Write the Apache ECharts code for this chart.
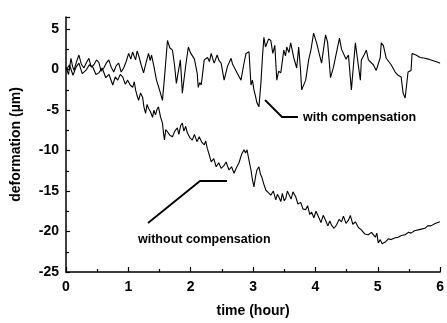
<!DOCTYPE html>
<html>
<head>
<meta charset="utf-8">
<script src="https://cdn.jsdelivr.net/npm/echarts@6/dist/echarts.min.js"></script>
<style>html,body{margin:0;padding:0;background:#fff;}#c{width:447px;height:323px;}</style>
</head>
<body>
<div id="c"></div>
<script>
// time (hour) and deformation (µm)
const withTime = [0.000,0.040,0.080,0.105,0.128,0.165,0.207,0.245,0.287,0.330,0.367,0.405,0.447,0.490,0.526,0.565,0.606,0.645,0.686,0.725,0.766,0.805,0.845,0.885,0.925,0.965,1.005,1.040,1.069,1.095,1.116,1.140,1.164,1.205,1.244,1.285,1.324,1.350,1.372,1.410,1.451,1.500,1.547,1.585,1.627,1.665,1.707,1.740,1.770,1.800,1.834,1.850,1.866,1.915,1.962,1.995,2.026,2.060,2.089,2.105,2.121,2.145,2.169,2.217,2.270,2.300,2.329,2.355,2.376,2.400,2.424,2.455,2.488,2.536,2.590,2.648,2.670,2.695,2.743,2.775,2.807,2.850,2.887,2.935,2.967,2.990,3.014,3.040,3.062,3.094,3.126,3.150,3.174,3.200,3.222,3.250,3.285,3.317,3.349,3.381,3.410,3.445,3.493,3.520,3.541,3.575,3.604,3.652,3.700,3.732,3.760,3.780,3.844,3.892,3.930,3.971,4.019,4.060,4.099,4.130,4.163,4.195,4.220,4.242,4.290,4.340,4.386,4.420,4.450,4.490,4.530,4.577,4.610,4.641,4.680,4.721,4.737,4.780,4.817,4.850,4.880,4.928,4.976,5.040,5.056,5.090,5.120,5.136,5.175,5.215,5.279,5.327,5.375,5.407,5.439,5.455,5.486,5.534,5.550,5.614,5.680,5.758,5.810,5.853,5.965,6.000];
const withValue = [0.3,-0.6,1.4,0.4,-0.1,0.9,1.8,0.7,0.2,0.9,1.4,0.3,0.6,1.2,0.9,-0.2,0.2,0.8,1.2,0.3,-0.3,0.5,0.8,-0.3,0.2,1.0,2.0,1.3,2.2,1.6,1.2,2.3,1.8,0.6,-0.4,0.9,2.0,1.1,1.8,0.4,-1.3,-2.5,-3.8,-0.5,3.6,2.7,2.4,0.6,-1.7,-0.3,1.2,-0.8,-2.9,0.2,2.8,2.1,2.0,1.3,1.5,-0.5,-2.2,-1.6,-1.9,1.2,1.5,1.0,2.0,1.3,0.8,1.3,1.8,1.1,0.8,-1.3,0.4,1.4,0.7,0.9,-0.4,-0.6,-1.3,0.6,2.0,2.2,-1.9,-1.3,-2.5,-3.3,-4.1,-4.6,-1.7,1.5,4.0,2.8,3.0,3.8,3.6,2.0,3.0,-1.3,-0.2,-0.4,2.4,1.7,2.8,2.1,3.3,1.5,0.2,2.8,0.1,-2.5,-1.3,1.2,2.5,4.5,3.3,2.0,0.8,2.5,4.3,3.4,1.2,-1.0,0.3,2.2,3.9,2.5,2.7,1.3,1.8,-2.5,0.5,3.3,1.0,-1.3,1.2,1.8,2.4,1.2,1.4,0.6,-0.1,1.5,3.3,3.0,2.8,1.4,1.0,0.6,-0.3,-0.7,-0.9,-2.9,-3.5,-3.4,-0.3,-0.1,2.0,1.8,1.5,1.4,1.3,1.2,0.9,0.8];

const withoutTime = [0.000,0.056,0.112,0.160,0.207,0.260,0.319,0.375,0.431,0.480,0.526,0.580,0.638,0.690,0.750,0.790,0.829,0.870,0.909,0.950,0.989,1.030,1.069,1.095,1.116,1.140,1.164,1.195,1.228,1.250,1.276,1.300,1.324,1.355,1.388,1.410,1.435,1.460,1.483,1.515,1.547,1.565,1.579,1.600,1.627,1.665,1.707,1.745,1.786,1.810,1.840,1.866,1.890,1.920,1.946,1.985,2.026,2.060,2.100,2.137,2.180,2.217,2.240,2.265,2.300,2.329,2.370,2.408,2.450,2.488,2.530,2.568,2.590,2.616,2.655,2.695,2.735,2.775,2.815,2.855,2.880,2.903,2.935,2.967,2.990,3.014,3.040,3.062,3.094,3.118,3.142,3.175,3.206,3.245,3.285,3.325,3.365,3.390,3.413,3.445,3.470,3.500,3.525,3.550,3.573,3.610,3.640,3.684,3.720,3.764,3.800,3.844,3.875,3.910,3.939,3.975,4.010,4.051,4.090,4.125,4.163,4.200,4.230,4.258,4.300,4.338,4.380,4.418,4.450,4.490,4.530,4.560,4.600,4.641,4.690,4.737,4.790,4.848,4.900,4.960,4.985,5.008,5.040,5.070,5.120,5.170,5.215,5.270,5.327,5.380,5.439,5.490,5.534,5.590,5.646,5.700,5.758,5.800,5.853,5.920,5.997];
const withoutValue = [-0.1,0.6,-0.7,0.3,0.8,-0.5,-0.1,0.6,0.3,-0.6,-0.4,0.2,-1.0,-0.6,-1.9,-0.9,-1.3,-0.6,-0.9,-1.8,-1.3,-1.9,-2.2,-1.5,-2.5,-3.2,-3.8,-2.9,-3.4,-4.6,-5.4,-4.3,-4.8,-5.2,-5.9,-5.0,-5.6,-4.9,-4.6,-5.8,-6.6,-7.9,-8.7,-7.4,-7.5,-8.1,-8.3,-7.6,-7.2,-8.0,-6.9,-6.6,-7.6,-7.0,-7.8,-8.4,-8.7,-8.0,-8.9,-8.3,-9.0,-9.3,-8.8,-9.7,-10.6,-11.4,-11.0,-12.0,-11.5,-12.2,-11.9,-11.4,-11.9,-12.4,-12.0,-12.8,-12.1,-11.5,-10.5,-9.9,-10.3,-9.9,-11.2,-12.4,-13.6,-14.5,-13.2,-12.4,-12.0,-12.9,-13.3,-14.2,-14.9,-15.2,-15.5,-15.0,-16.1,-15.4,-15.7,-16.3,-15.3,-16.2,-15.9,-15.0,-15.2,-16.0,-15.1,-15.7,-16.6,-16.4,-17.2,-17.3,-16.8,-17.9,-17.6,-18.3,-17.5,-18.2,-18.9,-18.0,-18.6,-19.3,-18.7,-19.2,-19.6,-19.2,-18.5,-18.8,-18.1,-19.0,-18.6,-18.0,-19.1,-18.8,-19.5,-19.8,-20.3,-20.4,-20.1,-20.7,-20.2,-21.4,-21.0,-21.5,-21.3,-20.9,-21.0,-20.8,-20.7,-20.5,-20.4,-20.1,-20.2,-19.9,-19.8,-19.7,-19.6,-19.3,-19.3,-19.0,-18.8];

const xAxisName = 'time (hour)';
const yAxisName = 'deformation (µm)';
const withLabel = 'with compensation';
const withoutLabel = 'without compensation';

function pairs(t, v) { return t.map((x, i) => [x, v[i]]); }

const font = "'Liberation Sans', Arial, sans-serif";
const chart = echarts.init(document.getElementById('c'), null, {renderer: 'canvas'});
chart.setOption({
  backgroundColor: '#fff',
  animation: false,
  grid: {left: 66, right: 5, top: 17, bottom: 51},
  xAxis: {
    type: 'value', min: 0, max: 6, interval: 1,
    name: xAxisName, nameLocation: 'middle', nameGap: 32,
    nameTextStyle: {fontFamily: font, fontWeight: 'bold', fontSize: 14, color: '#000'},
    axisLine: {onZero: false, lineStyle: {color: '#000', width: 1.5}},
    axisTick: {inside: true, length: 5, lineStyle: {color: '#000', width: 1.2}},
    minorTick: {show: true, splitNumber: 2, length: 3, lineStyle: {color: '#000', width: 1.2}},
    axisLabel: {fontFamily: font, fontWeight: 'bold', fontSize: 14, color: '#000', margin: 8},
    splitLine: {show: false}
  },
  yAxis: {
    type: 'value', min: -25, max: 6.5, interval: 5,
    name: yAxisName, nameLocation: 'middle', nameGap: 43,
    nameTextStyle: {fontFamily: font, fontWeight: 'bold', fontSize: 14, color: '#000'},
    axisLine: {show: true, onZero: false, lineStyle: {color: '#000', width: 1.5}},
    axisTick: {inside: true, length: 4, lineStyle: {color: '#000', width: 1.2}},
    minorTick: {show: true, splitNumber: 2, length: 3, lineStyle: {color: '#000', width: 1.2}},
    axisLabel: {fontFamily: font, fontWeight: 'bold', fontSize: 14, color: '#000', margin: 7, showMaxLabel: false,
      formatter: v => (Math.abs(v % 5) < 1e-9 ? String(v) : '')},
    splitLine: {show: false}
  },
  series: [
    {type: 'line', name: withLabel, data: pairs(withTime, withValue), showSymbol: false, symbol: 'none',
      lineStyle: {color: '#000', width: 1.1}},
    {type: 'line', name: withoutLabel, data: pairs(withoutTime, withoutValue), showSymbol: false, symbol: 'none',
      lineStyle: {color: '#000', width: 1.1}}
  ],
  graphic: [
    {type: 'polyline', shape: {points: [[265,100],[282,117],[298,117]]}, style: {stroke: '#000', lineWidth: 1.8, fill: null}},
    {type: 'text', left: 303, top: 111, style: {text: withLabel, font: "bold 12.5px " + font, fill: '#000'}},
    {type: 'polyline', shape: {points: [[148,223],[200,181],[227,181]]}, style: {stroke: '#000', lineWidth: 1.8, fill: null}},
    {type: 'text', left: 138, top: 233, style: {text: withoutLabel, font: "bold 12.5px " + font, fill: '#000'}}
  ]
});
</script>
</body>
</html>
